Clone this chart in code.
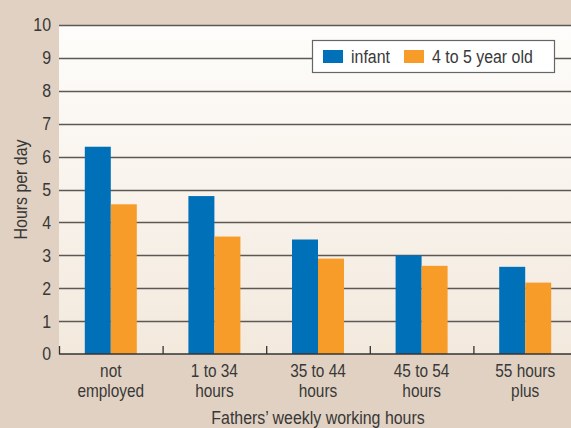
<!DOCTYPE html>
<html>
<head>
<meta charset="utf-8">
<script src="https://cdn.jsdelivr.net/npm/d3@7"></script>
<style>
  html, body { margin: 0; padding: 0; background: #e1d1c2; }
  svg { display: block; }
  text { font-family: "Liberation Sans", Arial, sans-serif; fill: #383838; }
</style>
</head>
<body>
<div id="chart"></div>
<script>
// chart data
const categories = [
  ['not', 'employed'],
  ['1 to 34', 'hours'],
  ['35 to 44', 'hours'],
  ['45 to 54', 'hours'],
  ['55 hours', 'plus'],
];
const seriesNames = ['infant', '4 to 5 year old'];
const infant = [6.3, 4.8, 3.48, 3.0, 2.65];
const preschool = [4.55, 3.57, 2.9, 2.68, 2.17];
const yTicks = [0, 1, 2, 3, 4, 5, 6, 7, 8, 9, 10];

const width = 571;
const height = 428;
const margin = { top: 25, right: -6, bottom: 74, left: 59 };
const colors = ['#0070b8', '#f79c28'];
const fontSize = 18.5;
// the original type is a condensed face, squeeze the regular one
const squeeze = 0.86;

const svg = d3
  .select('#chart')
  .append('svg')
  .attr('width', width)
  .attr('height', height);

svg.append('rect').attr('width', width).attr('height', height).attr('fill', '#e1d1c2');

// plot background gradient
const defs = svg.append('defs');
const grad = defs
  .append('linearGradient')
  .attr('id', 'plotbg')
  .attr('x1', 0).attr('y1', 0).attr('x2', 0).attr('y2', 1);
grad.append('stop').attr('offset', '0%').attr('stop-color', '#fefdfb');
grad.append('stop').attr('offset', '100%').attr('stop-color', '#f3e9dd');

const x0 = d3
  .scaleBand()
  .domain(categories.map((d, i) => i))
  .range([margin.left, width - margin.right])
  .padding(0);

const barW = 26;
const x1 = d3
  .scaleBand()
  .domain(seriesNames)
  .range([x0.bandwidth() / 2 - barW, x0.bandwidth() / 2 + barW]);

const y = d3
  .scaleLinear()
  .domain([0, 10])
  .range([height - margin.bottom, margin.top]);

svg
  .append('rect')
  .attr('x', margin.left)
  .attr('y', margin.top)
  .attr('width', width - margin.left)
  .attr('height', y(0) - margin.top)
  .attr('fill', 'url(#plotbg)');

// gridlines
svg
  .append('g')
  .selectAll('line')
  .data(yTicks.filter((t) => t > 0))
  .join('line')
  .attr('x1', margin.left)
  .attr('x2', width)
  .attr('y1', (d) => Math.round(y(d)) + 0.5)
  .attr('y2', (d) => Math.round(y(d)) + 0.5)
  .attr('stroke', '#5e5753')
  .attr('stroke-width', 1.6);

// y tick labels
svg
  .append('g')
  .selectAll('text')
  .data(yTicks)
  .join('text')
  .attr('transform', (d) => `translate(51,${y(d)}) scale(${squeeze},1)`)
  .attr('dy', '0.35em')
  .attr('text-anchor', 'end')
  .attr('font-size', fontSize)
  .text((d) => d);

// bars
const rows = categories.map((c, i) => ({ i, values: [infant[i], preschool[i]] }));
svg
  .append('g')
  .selectAll('g')
  .data(rows)
  .join('g')
  .attr('transform', (d) => `translate(${x0(d.i)},0)`)
  .selectAll('rect')
  .data((d) => d.values.map((v, k) => ({ v, k })))
  .join('rect')
  .attr('x', (d) => x1(seriesNames[d.k]))
  .attr('width', x1.bandwidth())
  .attr('y', (d) => y(d.v))
  .attr('height', (d) => y(0) - y(d.v))
  .attr('fill', (d) => colors[d.k]);

// baseline and band ticks
svg
  .append('line')
  .attr('x1', margin.left)
  .attr('x2', width)
  .attr('y1', y(0))
  .attr('y2', y(0))
  .attr('stroke', '#333')
  .attr('stroke-width', 1.6);

svg
  .append('g')
  .selectAll('line')
  .data(categories.map((d, i) => i))
  .join('line')
  .attr('x1', (d) => x0(d) + 0.5)
  .attr('x2', (d) => x0(d) + 0.5)
  .attr('y1', y(0))
  .attr('y2', y(0) - 8)
  .attr('stroke', '#333')
  .attr('stroke-width', 1.3);

// category labels, one text per line
const catLines = categories.flatMap((lines, i) => lines.map((t, j) => ({ t, i, j })));
svg
  .append('g')
  .selectAll('text')
  .data(catLines)
  .join('text')
  .attr('text-anchor', 'middle')
  .attr('font-size', 17.5)
  .attr('transform', (d) => `translate(${x0(d.i) + x0.bandwidth() / 2},${377 + d.j * 19.5}) scale(${squeeze + 0.02},1)`)
  .text((d) => d.t);

// axis titles
svg
  .append('text')
  .attr('transform', `translate(${(margin.left + width - margin.right) / 2},424) scale(${squeeze},1)`)
  .attr('text-anchor', 'middle')
  .attr('font-size', fontSize)
  .text('Fathers\u2019 weekly working hours');

svg
  .append('text')
  .attr('transform', `translate(27,${(y(0) + y(10)) / 2}) rotate(-90) scale(${squeeze},1)`)
  .attr('text-anchor', 'middle')
  .attr('font-size', fontSize)
  .text('Hours per day');

// legend
const legend = svg.append('g').attr('transform', 'translate(312,40)');
legend
  .append('rect')
  .attr('x', 0.5)
  .attr('y', 0.5)
  .attr('width', 242)
  .attr('height', 32)
  .attr('fill', '#fff')
  .attr('stroke', '#666')
  .attr('stroke-width', 1.2);
const legendX = [11, 92];
const items = legend
  .selectAll('g.item')
  .data(seriesNames)
  .join('g')
  .attr('class', 'item')
  .attr('transform', (d, i) => `translate(${legendX[i]},10)`);
items
  .append('rect')
  .attr('width', 20)
  .attr('height', 13)
  .attr('fill', (d, i) => colors[i]);
items
  .append('text')
  .attr('transform', `translate(28,6.5) scale(${squeeze},1)`)
  .attr('dy', '0.35em')
  .attr('font-size', fontSize)
  .text((d) => d);
</script>
</body>
</html>
